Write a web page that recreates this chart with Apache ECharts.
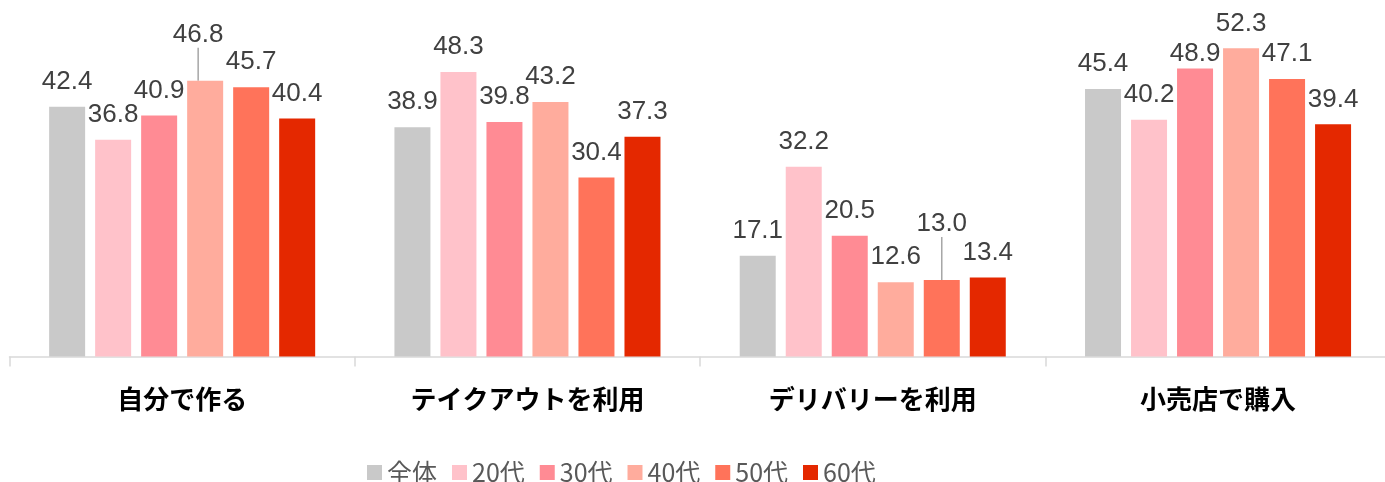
<!DOCTYPE html>
<html>
<head>
<meta charset="utf-8">
<script src="https://cdn.jsdelivr.net/npm/echarts@6/dist/echarts.min.js"></script>
<style>
html,body{margin:0;padding:0;background:#fff;}
#chart{width:1385px;height:482px;}
</style>
</head>
<body>
<div id="chart"></div>
<script>
// ---- data ----
var categories = ['自分で作る', 'テイクアウトを利用', 'デリバリーを利用', '小売店で購入'];
var seriesNames = ['全体', '20代', '30代', '40代', '50代', '60代'];
var vAll = [42.4, 38.9, 17.1, 45.4];
var v20 = [36.8, 48.3, 32.2, 40.2];
var v30 = [40.9, 39.8, 20.5, 48.9];
var v40 = [46.8, 43.2, 12.6, 52.3];
var v50 = [45.7, 30.4, 13.0, 47.1];
var v60 = [40.4, 37.3, 13.4, 39.4];
var seriesValues = [vAll, v20, v30, v40, v50, v60];

// ---- style ----
var colors = ['#c9c9c9', '#ffc2ca', '#ff8b94', '#ffac9d', '#ff735a', '#e42800'];
// manually moved data labels: [seriesIndex, dataIndex, dx, dy, withLeaderLine]
var labelShifts = [
  [3, 0, -7, -21, true],
  [4, 2, 0, -31, true],
  [2, 3, 0, 10, false]
];
function findShift(s, d) {
  for (var i = 0; i < labelShifts.length; i++) {
    if (labelShifts[i][0] === s && labelShifts[i][1] === d) return labelShifts[i];
  }
  return null;
}

var series = seriesValues.map(function (vals, si) {
  return {
    name: seriesNames[si],
    type: 'bar',
    barWidth: 36,
    barGap: '27.8%',
    itemStyle: { color: colors[si] },
    label: {
      show: true,
      position: 'top',
      distance: 12,
      color: '#404040',
      fontSize: 26,
      fontFamily: 'Liberation Sans, Arial, sans-serif',
      formatter: function (p) { return p.value.toFixed(1); }
    },
    labelLine: { show: false, lineStyle: { color: '#a6a6a6', width: 1.5 } },
    labelLayout: function (params) {
      var sh = findShift(params.seriesIndex, params.dataIndex);
      if (sh) return { dx: sh[2], dy: sh[3] };
      return {};
    },
    data: vals.map(function (v, di) {
      var sh = findShift(si, di);
      if (sh && sh[4]) {
        return { value: v, labelLine: { show: true, lineStyle: { color: '#a6a6a6', width: 1.5 } } };
      }
      return v;
    })
  };
});

var chart = echarts.init(document.getElementById('chart'), null, { renderer: 'canvas' });
chart.setOption({
  animation: false,
  backgroundColor: '#ffffff',
  color: colors,
  grid: { left: 9.5, width: 1381.2, top: 3, height: 353.5, containLabel: false, outerBoundsMode: 'none' },
  legend: {
    left: 362,
    top: 455,
    icon: 'rect',
    itemWidth: 15,
    itemHeight: 15,
    itemGap: 15,
    textStyle: {
      color: '#595959',
      fontSize: 25,
      fontFamily: 'Noto Sans CJK JP, sans-serif'
    },
    data: seriesNames
  },
  xAxis: {
    type: 'category',
    data: categories,
    axisLine: { show: true, lineStyle: { color: '#d9d9d9', width: 1.5 } },
    axisTick: { show: true, alignWithLabel: false, length: 10, lineStyle: { color: '#d9d9d9', width: 1.5 } },
    axisLabel: {
      margin: 30,
      color: '#000000',
      fontSize: 26,
      fontWeight: 'bold',
      fontFamily: 'Noto Sans CJK JP, sans-serif',
      interval: 0
    },
    splitLine: { show: false }
  },
  yAxis: {
    type: 'value',
    min: 0,
    max: 60,
    show: false,
    splitLine: { show: false }
  },
  series: series
});
</script>
</body>
</html>
